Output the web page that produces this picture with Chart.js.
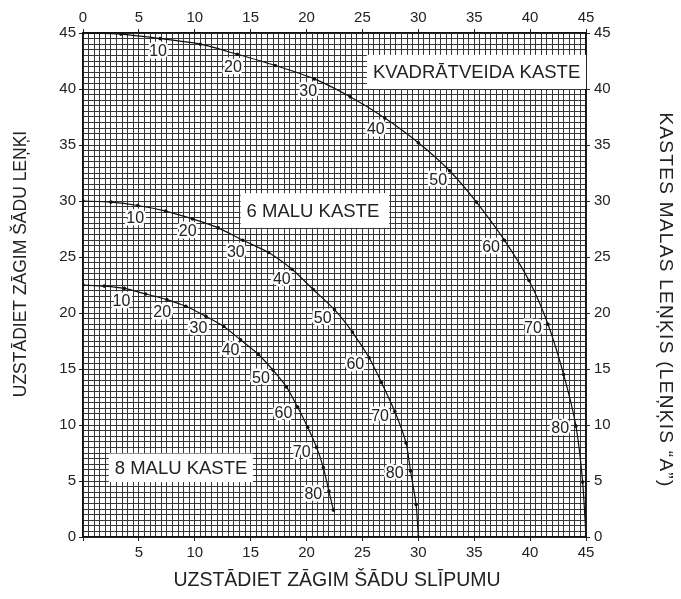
<!DOCTYPE html>
<html>
<head>
<meta charset="utf-8">
<script src="https://cdn.jsdelivr.net/npm/chart.js@4.4.1/dist/chart.umd.min.js"></script>
<style>
  html, body { margin:0; padding:0; background:#fff; }
  #wrap { width:681px; height:599px; }
</style>
</head>
<body>
<div id="wrap"><canvas id="miterChart" width="681" height="599"></canvas></div>
<script>
// Box side tilt angle "A" (degrees) for every plotted dot
const tiltAngles = [0,5,10,15,20,25,30,35,40,45,50,55,60,65,70,75,80,85,90];

// Square box: blade bevel (x) and miter (y)
const squareBevel = [0,3.4,6.9,10.5,13.8,17.2,20.7,23.9,27.0,30.0,32.8,35.2,37.7,39.9,41.6,43.0,44.1,44.7,45];
const squareMiter = [45,44.9,44.5,44.0,43.1,42.1,40.9,39.3,37.4,35.2,32.7,29.9,26.5,22.9,19.0,14.5,9.9,4.9,0];

// 6 sided box
const hexBevel = [0,2.5,4.9,7.4,9.8,12.1,14.3,16.6,18.7,20.6,22.5,24.1,25.6,26.7,27.9,28.9,29.3,29.8,30];
const hexMiter = [30,29.9,29.6,29.1,28.4,27.6,26.5,25.4,23.9,22.1,20.3,18.3,16.0,13.8,11.2,8.4,5.9,2.9,0];

// 8 sided box (curve stops at A = 85)
const octBevel = [0,1.9,3.7,5.6,7.5,9.2,11.0,12.6,14.1,15.7,17.0,18.2,19.2,20.1,20.9,21.5,22.0,22.4];
const octMiter = [22.5,22.4,22.2,21.7,21.2,20.6,19.7,18.8,17.6,16.3,14.9,13.4,11.6,9.8,8.0,6.2,4.1,2.4];

const axisTicks = [0,5,10,15,20,25,30,35,40,45];
const angleLabels = [10,20,30,40,50,60,70,80];
const boxNames = ['KVADRĀTVEIDA KASTE','6 MALU KASTE','8 MALU KASTE'];

const FONT = "'Liberation Sans', Arial, Helvetica, sans-serif";

function toPoints(xs, ys){ return xs.map((x,i)=>({x, y:ys[i], a:tiltAngles[i]})); }

function curve(xs, ys){
  return {
    data: toPoints(xs, ys),
    showLine:true, tension:0.25,
    borderColor:'#111', borderWidth:1.2,
    pointRadius:1.8, pointBackgroundColor:'#111', pointBorderWidth:0
  };
}

const isMajor = v => axisTicks.includes(Math.round(v*100)/100);

function axis(position, size, showZero, onArea){
  return {
    type:'linear', position, min:0, max:45,
    ticks:{
      stepSize:0.5, autoSkip:false, maxRotation:0, maxTicksLimit:200,
      padding: position==='right' ? 4 : (position==='top' ? 2 : 3),
      color:'#222', font:{family:FONT, size:15},
      callback: v => (isMajor(v) && (showZero || v>0)) ? String(v) : ''
    },
    grid:{
      drawOnChartArea:onArea, color:'#363636', lineWidth:1,
      tickLength:4, tickColor: c => isMajor(c.tick.value) ? '#222' : 'rgba(0,0,0,0)'
    },
    border:{color:'#111', width:1.5},
    afterFit(s){ if (position==='left'||position==='right') s.width=size; else s.height=size; }
  };
}

// captions, angle labels and axis titles
const textPlugin = {
  id:'textPlugin',
  afterDatasetsDraw(chart){
    const {ctx, scales:{x, y}} = chart;
    ctx.save();
    // box name captions on white panels
    const panels = [
      {name:boxNames[0], x0:25.4, x1:45, y0:40.0, y1:43.05},
      {name:boxNames[1], x0:14.1, x1:27.4, y0:27.6, y1:30.7},
      {name:boxNames[2], x0:2.3, x1:15.2, y0:4.9, y1:7.45}
    ];
    ctx.font = '18.5px ' + FONT;
    ctx.textBaseline = 'middle';
    ctx.textAlign = 'left';
    panels.forEach(p=>{
      const l = x.getPixelForValue(p.x0), r = x.getPixelForValue(p.x1);
      const t = y.getPixelForValue(p.y1), b = y.getPixelForValue(p.y0);
      ctx.fillStyle = '#fff';
      ctx.fillRect(l, t, r-l, b-t);
      ctx.fillStyle = '#222';
      ctx.fillText(p.name, l+6, (t+b)/2+1);
    });

    // tilt angle numbers beside the curve dots
    ctx.font = '16px ' + FONT;
    ctx.textAlign = 'center';
    ctx.lineJoin = 'round';
    chart.data.datasets.forEach((ds, di)=>{
      const pts = chart.getDatasetMeta(di).data;
      ds.data.forEach((d, i)=>{
        if (!angleLabels.includes(d.a) || !pts[i+1]) return;
        const tx = pts[i+1].x - pts[i-1].x, ty = pts[i+1].y - pts[i-1].y;
        const len = Math.hypot(tx, ty);
        const nx = -ty/len, ny = tx/len;
        const lx = pts[i].x + nx*16, ly = pts[i].y + ny*13.5;
        ctx.strokeStyle = '#fff'; ctx.lineWidth = 5;
        ctx.strokeText(String(d.a), lx, ly);
        ctx.fillStyle = '#222';
        ctx.fillText(String(d.a), lx, ly);
      });
    });
    ctx.restore();
  },
  afterDraw(chart){
    const {ctx} = chart;
    ctx.save();
    ctx.fillStyle = '#222';
    ctx.textAlign = 'center';
    ctx.textBaseline = 'middle';
    ctx.font = '19.5px ' + FONT;
    ctx.fillText('UZSTĀDIET ZĀGIM ŠĀDU SLĪPUMU', 337, 581);

    ctx.font = '17.5px ' + FONT;
    ctx.translate(21, 264);
    ctx.rotate(-Math.PI/2);
    ctx.fillText('UZSTĀDIET ZĀGIM ŠĀDU LEŅĶI', 0, 0);
    ctx.restore();

    ctx.save();
    ctx.fillStyle = '#222';
    ctx.font = '19px ' + FONT;
    ctx.letterSpacing = '1.3px';
    ctx.textAlign = 'center';
    ctx.textBaseline = 'middle';
    ctx.translate(665, 300);
    ctx.rotate(Math.PI/2);
    ctx.fillText('KASTES MALAS LEŅĶIS (LEŅĶIS “A”)', 0, 0);
    ctx.restore();
  }
};

new Chart(document.getElementById('miterChart').getContext('2d'), {
  type:'scatter',
  data:{ datasets:[
    curve(squareBevel, squareMiter),
    curve(hexBevel, hexMiter),
    curve(octBevel, octMiter)
  ]},
  options:{
    responsive:false, animation:false, devicePixelRatio:1,
    layout:{padding:0},
    plugins:{legend:{display:false}, tooltip:{enabled:false}},
    scales:{
      x: axis('bottom', 62, false, true),
      x2: axis('top', 33, true, false),
      y: axis('left', 83, true, true),
      y2: axis('right', 95, true, false)
    }
  },
  plugins:[textPlugin]
});
</script>
</body>
</html>
